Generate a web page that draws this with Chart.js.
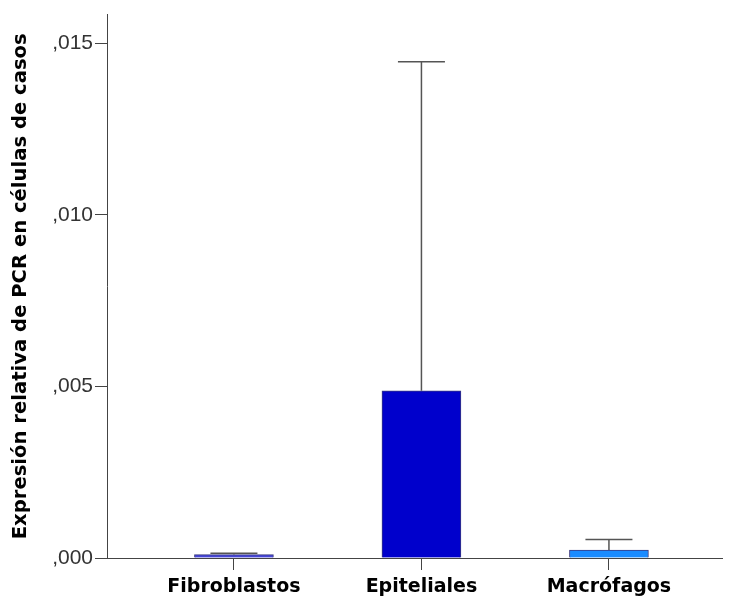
<!DOCTYPE html>
<html>
<head>
<meta charset="utf-8">
<script src="https://cdn.jsdelivr.net/npm/chart.js@4"></script>
<style>
  html, body { margin: 0; padding: 0; background: #fff; }
  #wrap { width: 733px; height: 600px; }
</style>
</head>
<body>
<div id="wrap"><canvas id="pcrChart" width="733" height="600"></canvas></div>
<script>
// categorías y valores
const categorias = ['Fibroblastos', 'Epiteliales', 'Macrófagos'];
const medias = [0.00010, 0.00487, 0.00023];
const errorSuperior = [0.00014, 0.01446, 0.00054];
const ticksY = [0, 0.005, 0.010, 0.015];
const coloresBarras = ['#4646d6', '#0000cc', '#1a8cff'];

// dibuja las barras de error (solo hacia arriba) con las escalas del gráfico
const barrasError = {
    id: 'barrasError',
    afterDatasetsDraw(chart) {
        const ctx = chart.ctx;
        const x = chart.scales.x;
        const y = chart.scales.y;
        ctx.save();
        ctx.strokeStyle = '#555555';
        ctx.lineWidth = 1.5;
        categorias.forEach((c, i) => {
            const px = x.getPixelForValue(i + 1);
            const y0 = y.getPixelForValue(medias[i]);
            const y1 = y.getPixelForValue(errorSuperior[i]);
            ctx.beginPath();
            ctx.moveTo(px, y0);
            ctx.lineTo(px, y1);
            ctx.moveTo(px - 23.5, y1);
            ctx.lineTo(px + 23.5, y1);
            ctx.stroke();
        });
        ctx.restore();
    }
};

const formatoY = v => v.toFixed(3).replace(/^0\./, ',');

new Chart(document.getElementById('pcrChart').getContext('2d'), {
    type: 'bar',
    data: {
        datasets: [{
            data: categorias.map((c, i) => ({ x: i + 1, y: medias[i] })),
            backgroundColor: coloresBarras,
            borderColor: '#3a3a80',
            borderWidth: 1,
            barThickness: 79
        }]
    },
    options: {
        responsive: false,
        animation: false,
        layout: { padding: { top: 12, right: 11, left: 0, bottom: 0 } },
        plugins: {
            legend: { display: false },
            tooltip: { enabled: false }
        },
        scales: {
            x: {
                type: 'linear',
                offset: false,
                min: 0.323,
                max: 3.603,
                afterBuildTicks: axis => {
                    axis.ticks = categorias.map((c, i) => ({ value: i + 1 }));
                },
                afterFit: axis => { axis.height = 42; },
                ticks: {
                    autoSkip: false,
                    maxRotation: 0,
                    padding: 6,
                    color: '#000',
                    font: { family: 'DejaVu Sans', size: 19, weight: 'bold' },
                    callback: v => categorias[v - 1] || ''
                },
                grid: { offset: false, drawOnChartArea: false, drawTicks: true, tickLength: 12, color: '#444' },
                border: { display: true, color: '#444', width: 1 }
            },
            y: {
                min: 0,
                max: 0.01583,
                afterBuildTicks: axis => {
                    axis.ticks = ticksY.map(v => ({ value: v }));
                },
                afterFit: axis => { axis.width = 107; },
                ticks: {
                    color: '#333',
                    padding: 2,
                    font: { family: 'Liberation Sans', size: 21 },
                    callback: formatoY
                },
                grid: { drawOnChartArea: false, drawTicks: true, tickLength: 12, color: '#444' },
                border: { display: true, color: '#444', width: 1 },
                title: {
                    display: true,
                    text: 'Expresión relativa de PCR en células de casos',
                    color: '#000',
                    font: { family: 'DejaVu Sans', size: 19.6, weight: 'bold' },
                    padding: { top: 9, bottom: 0 }
                }
            }
        }
    },
    plugins: [barrasError]
});
</script>
</body>
</html>
